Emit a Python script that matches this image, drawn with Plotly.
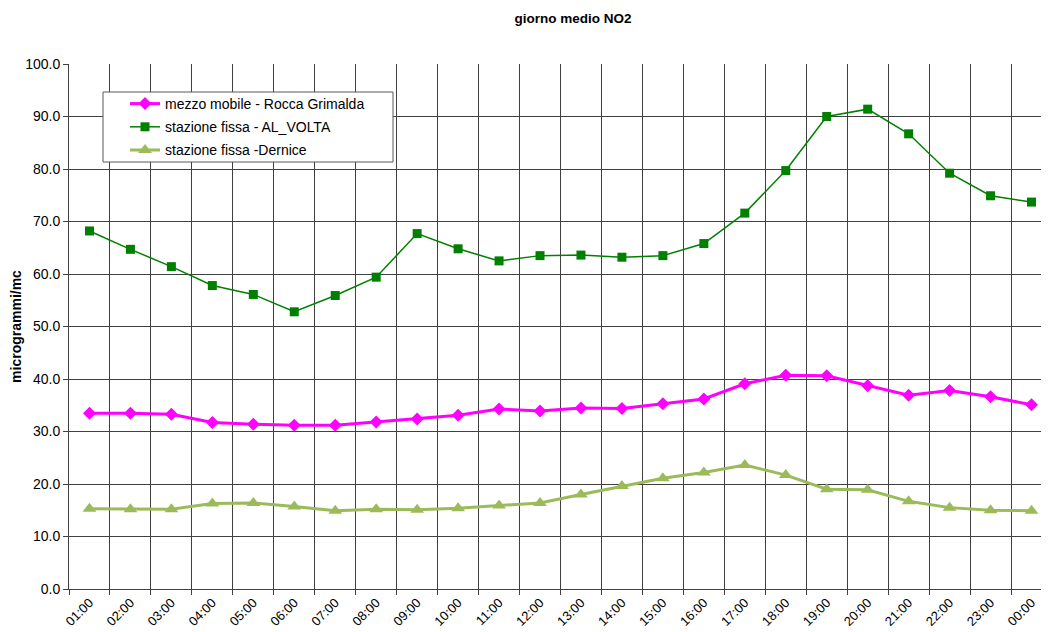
import plotly.graph_objects as go

hours = ["01:00", "02:00", "03:00", "04:00", "05:00", "06:00", "07:00", "08:00",
         "09:00", "10:00", "11:00", "12:00", "13:00", "14:00", "15:00", "16:00",
         "17:00", "18:00", "19:00", "20:00", "21:00", "22:00", "23:00", "00:00"]

rocca_grimalda = [33.5, 33.5, 33.3, 31.7, 31.4, 31.2, 31.2, 31.8, 32.4, 33.1, 34.3, 33.9,
                  34.5, 34.4, 35.3, 36.2, 39.1, 40.7, 40.6, 38.7, 36.9, 37.8, 36.6, 35.1]

al_volta = [68.2, 64.7, 61.4, 57.8, 56.1, 52.8, 55.9, 59.4, 67.7, 64.8, 62.5, 63.5,
            63.6, 63.2, 63.5, 65.8, 71.6, 79.7, 90.0, 91.4, 86.7, 79.2, 74.9, 73.7]

dernice = [15.3, 15.2, 15.2, 16.3, 16.4, 15.7, 14.9, 15.2, 15.1, 15.4, 15.9, 16.4,
           18.0, 19.6, 21.1, 22.2, 23.6, 21.7, 19.0, 18.9, 16.7, 15.5, 15.0, 14.9]

FONT = "Arial, 'Liberation Sans', sans-serif"

# page has an 8px body margin: figure is drawn at (8, 8) in the window
W, H = 1041, 624
L, T, B = 61, 56, 43
PW, PH = W - L, H - T - B  # plot area size in px


def px_x(page_x):
    return (page_x - 8 - L) / PW


def px_y(page_y):
    return (H - B - (page_y - 8)) / PH


fig = go.Figure()
fig.add_trace(go.Scatter(
    x=hours, y=rocca_grimalda, name="mezzo mobile - Rocca Grimalda",
    mode="lines+markers", legendgroup="a",
    line=dict(color="#FF00FF", width=3),
    marker=dict(symbol="diamond", size=10, color="#FF00FF"),
))
fig.add_trace(go.Scatter(
    x=hours, y=al_volta, name="stazione fissa - AL_VOLTA",
    mode="lines+markers", legendgroup="b",
    line=dict(color="#008000", width=1.5),
    marker=dict(symbol="square", size=9, color="#008000"),
))
fig.add_trace(go.Scatter(
    x=hours, y=dernice, name="stazione fissa -Dernice",
    mode="lines+markers", legendgroup="c",
    line=dict(color="#9BBB59", width=3),
    marker=dict(symbol="triangle-up", size=12, color="#9BBB59"),
))

fig.update_layout(
    width=W, height=H,
    margin=dict(l=L, r=0, t=T, b=B, pad=0, autoexpand=False),
    paper_bgcolor="white", plot_bgcolor="white",
    font=dict(family=FONT, size=14, color="black"),
    title=dict(text="<b>giorno medio NO2</b>", x=(573 - 8) / W, xanchor="center",
               y=1 - (18 - 8) / H, yanchor="middle", font=dict(size=13.5, family=FONT),
               automargin=False),
    showlegend=True,
    legend=dict(x=px_x(125), y=px_y(88), xanchor="left", yanchor="top",
                borderwidth=0, bgcolor="rgba(0,0,0,0)",
                font=dict(size=14, family=FONT), tracegroupgap=2,
                itemwidth=30),
    shapes=[dict(type="rect", xref="paper", yref="paper",
                 x0=px_x(103), x1=px_x(393), y0=px_y(162), y1=px_y(92),
                 fillcolor="white", line=dict(color="#595959", width=1),
                 layer="above")],
)

fig.update_xaxes(
    type="category", categoryorder="array", categoryarray=hours,
    range=[-0.5, 23.427], automargin=False,
    tickson="boundaries", ticks="outside", ticklen=5, tickcolor="#404040",
    showgrid=True, gridcolor="#404040", gridwidth=1,
    showline=True, linecolor="#404040", linewidth=1,
    tickangle=-45, tickfont=dict(size=13, family=FONT),
)
fig.update_yaxes(
    range=[0, 100], dtick=10, tick0=0, tickformat=".1f", automargin=False,
    ticks="outside", ticklen=5, tickcolor="#404040",
    showgrid=True, gridcolor="#404040", gridwidth=1,
    showline=True, linecolor="#404040", linewidth=1,
    zeroline=False,
    title=dict(text="<b>microgrammi/mc</b>", font=dict(size=14, family=FONT), standoff=2),
    tickfont=dict(size=14, family=FONT),
)

fig.write_html("out.html")
